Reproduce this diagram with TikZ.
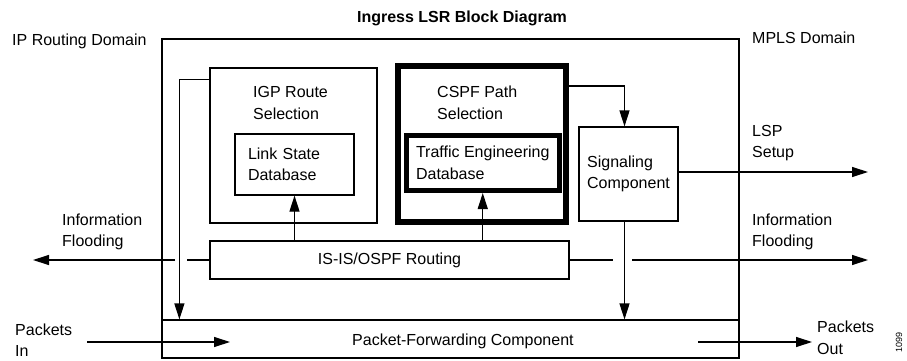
\documentclass[tikz,border=0pt]{standalone}
\usepackage{fontspec}
\setmainfont{Liberation Sans}
\usetikzlibrary{arrows.meta, positioning, calc}
\newcommand{\blocktext}{\fontsize{16}{21.5}\selectfont}

\begin{document}
\begin{tikzpicture}[x=1pt, y=-1pt]
	\tikzstyle{box}=[draw=black, line width=1.2pt, inner sep=0pt, font=\blocktext];
	\tikzstyle{txt}=[anchor=west, align=left, inner sep=0pt, font=\blocktext];
	\tikzstyle{arr}=[-{Triangle[length=16pt, width=10pt]}, line width=1.2pt];

	\useasboundingbox (0, 0) rectangle (907, 361);

	% boxes
	\node[box, minimum width=577pt, minimum height=319pt] (lsr) at (450.5, 198.5) {};
	\node[box, minimum width=577pt, minimum height=38pt] (pf) at (450.5, 339) {};
	\node[box, minimum width=167pt, minimum height=155pt] (igp) at (293.5, 145.5) {};
	\node[box, minimum width=119pt, minimum height=61pt, text width=93pt, align=left] (lsd) at (294.5, 164.5) {Link State\\Database};
	\node[box, line width=6pt, minimum width=168pt, minimum height=156pt] (cspf) at (482, 144) {};
	\node[box, line width=5pt, minimum width=153.5pt, minimum height=55pt, align=left] (ted) at (482.75, 163) {Traffic Engineering\\Database};
	\node[box, minimum width=99pt, minimum height=94pt, align=left] (sig) at (628.5, 174) {Signaling\\Component};
	\node[box, minimum width=359pt, minimum height=38pt] (isis) at (389.5, 260) {IS-IS/OSPF Routing};

	% texts
	\node[font=\blocktext\bfseries, inner sep=0pt] (title) at (462, 18) {Ingress LSR Block Diagram};
	\node[txt] (ipdom) at (12, 41) {IP Routing Domain};
	\node[txt] (mplsdom) at (752, 38) {MPLS Domain};
	\node[txt] (igptxt) at (253, 103) {IGP Route\\Selection};
	\node[txt] (cspftxt) at (437, 103) {CSPF Path\\Selection};
	\node[txt] (pftxt) at (352, 341) {Packet-Forwarding Component};
	\node[txt] (lsplbl) at (752, 143) {LSP\\Setup};
	\node[txt] (floodllbl) at (62, 232) {Information\\Flooding};
	\node[txt] (floodrlbl) at (752, 232) {Information\\Flooding};
	\node[txt] (pinlbl) at (15, 340) {Packets\\In};
	\node[txt] (poutlbl) at (817, 338) {Packets\\Out};
	\node[rotate=90, inner sep=0pt, font=\fontsize{9}{10}\selectfont] (fignum) at (899, 342) {1099};

	% free ends
	\coordinate (lspend) at (868, 172);
	\coordinate (gapr1) at (613, 260);
	\coordinate (gapr2) at (632, 260);
	\coordinate (floodr) at (868, 260);
	\coordinate (gapl1) at (187, 260);
	\coordinate (gapl2) at (175, 260);
	\coordinate (floodl) at (33, 260);
	\coordinate (pinstart) at (87, 342);
	\coordinate (pinend) at (230, 342);
	\coordinate (poutstart) at (698, 342);
	\coordinate (poutend) at (812, 342);

	% connectors
	\draw[arr] ([yshift=-12pt]igp.north west) -| ([xshift=18pt]pf.north west);
	\draw[arr] (isis.north -| lsd.south) -- (lsd.south);
	\draw[arr] (isis.north -| ted.south) -- (ted.south);
	\draw[arr] ([yshift=-23pt]cspf.north east) -| ([xshift=-4pt]sig.north);
	\draw[arr] ([xshift=-4pt]sig.south) -- ([xshift=-4pt]sig.south |- pf.north);
	\draw[arr] (sig.east |- lspend) -- (lspend);
	\draw[line width=1.2pt] (isis.east) -- (gapr1);
	\draw[arr] (gapr2) -- (floodr);
	\draw[line width=1.2pt] (isis.west) -- (gapl1);
	\draw[arr] (gapl2) -- (floodl);
	\draw[arr] (pinstart) -- (pinend);
	\draw[arr] (poutstart) -- (poutend);
\end{tikzpicture}
\end{document}
